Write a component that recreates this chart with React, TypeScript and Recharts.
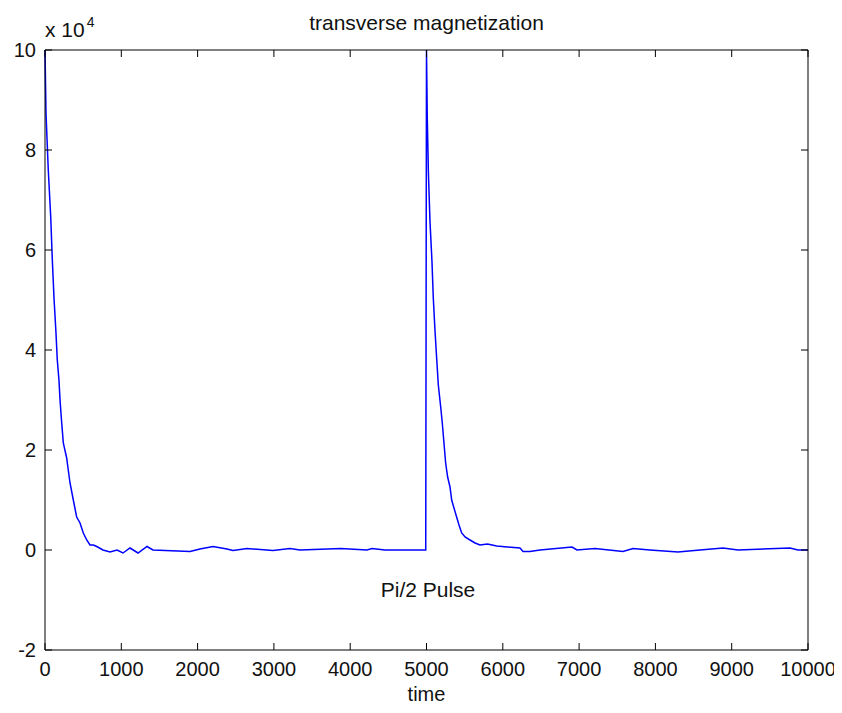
import { FC } from "react";
import {
	LineChart,
	Line,
	XAxis,
	YAxis,
	ReferenceDot,
} from "recharts";

// time samples
const timeSteps = [
	0, 13, 43, 75, 96, 118, 144, 161, 183, 197, 216, 240, 284, 305, 328, 371,
	415, 459, 502, 547, 590, 633, 678, 760, 852, 944, 1022, 1114, 1219, 1337,
	1415, 1900, 2031, 2202, 2385, 2464, 2647, 2988, 3211, 3342, 3879, 4220,
	4286, 4456, 4990, 5000, 5010, 5025, 5046, 5072, 5089, 5111, 5133, 5155,
	5186, 5207, 5229, 5251, 5277, 5308, 5330, 5360, 5395, 5426, 5461, 5505,
	5570, 5636, 5701, 5800, 5920, 6225, 6265, 6356, 6487, 6907, 6972, 7208,
	7575, 7706, 7929, 8296, 8584, 8886, 9083, 9764, 9869, 10000,
];

// transverse magnetization, in units of 10^4
const magnetization = [
	10, 8.74, 7.6, 6.66, 5.8, 5.04, 4.34, 3.8, 3.4, 3.0, 2.6, 2.14, 1.84, 1.6,
	1.34, 1.0, 0.66, 0.54, 0.34, 0.2, 0.1, 0.1, 0.07, 0, -0.04, 0, -0.06, 0.04,
	-0.06, 0.07, 0, -0.03, 0.02, 0.07, 0.02, -0.01, 0.03, -0.01, 0.03, 0, 0.03,
	0, 0.03, 0, 0, 10, 8.66, 7.54, 6.56, 5.76, 5.04, 4.4, 3.84, 3.3, 2.86, 2.54,
	2.14, 1.74, 1.46, 1.26, 1.0, 0.84, 0.66, 0.5, 0.34, 0.26, 0.2, 0.14, 0.1,
	0.12, 0.08, 0.04, -0.03, -0.03, 0, 0.06, 0, 0.03, -0.03, 0.03, 0, -0.04, 0,
	0.04, 0, 0.04, 0, 0,
];

const xTicks = [0, 1000, 2000, 3000, 4000, 5000, 6000, 7000, 8000, 9000, 10000];
const yTicks = [-2, 0, 2, 4, 6, 8, 10];

const pulseNote = { t: 5020, value: -0.8, text: "Pi/2 Pulse" };

const data = timeSteps.map((t, i) => ({ t, m: magnetization[i] }));

const FONT = "'Liberation Sans', Arial, Helvetica, sans-serif";
const TICK_LEN = 7;
const TICK_COLOR = "#000";

// matlab style: tick marks point into the box
const BottomTick = (props: any) => {
	const x = Number(props.x);
	const y = Number(props.y);
	return (
		<g>
			<path d={`M${x},${y}V${y - TICK_LEN}`} stroke={TICK_COLOR} strokeWidth={1} />
			<text x={x} y={y + 26} textAnchor="middle" fontFamily={FONT} fontSize={20} fill="#111">
				{props.payload.value}
			</text>
		</g>
	);
};

const TopTick = (props: any) => {
	const x = Number(props.x);
	const y = Number(props.y);
	return <path d={`M${x},${y}V${y + TICK_LEN}`} stroke={TICK_COLOR} strokeWidth={1} />;
};

const LeftTick = (props: any) => {
	const x = Number(props.x);
	const y = Number(props.y);
	return (
		<g>
			<path d={`M${x},${y}H${x + TICK_LEN}`} stroke={TICK_COLOR} strokeWidth={1} />
			<text x={x - 9} y={y + 7} textAnchor="end" fontFamily={FONT} fontSize={20} fill="#111">
				{props.payload.value}
			</text>
		</g>
	);
};

const RightTick = (props: any) => {
	const x = Number(props.x);
	const y = Number(props.y);
	return <path d={`M${x},${y}H${x - TICK_LEN}`} stroke={TICK_COLOR} strokeWidth={1} />;
};

const App: FC = () => {
	return (
		<div style={{ position: "relative", width: 834, height: 697 }}>
			<LineChart
				width={834}
				height={697}
				data={data}
				margin={{ top: 41, right: 33, left: 0, bottom: 0 }}
				style={{ overflow: "visible" }}
			>
				<XAxis
					dataKey="t"
					type="number"
					domain={[0, 10000]}
					ticks={xTicks}
					interval={0}
					height={55}
					stroke="#000"
					tickLine={false}
					tickSize={0}
					tickMargin={0}
					tick={<BottomTick />}
					label={{
						value: "time",
						position: "insideBottom",
						offset: 4,
						style: { fontFamily: FONT, fontSize: 20, fill: "#111" },
					}}
				/>
				<XAxis
					xAxisId="top"
					orientation="top"
					dataKey="t"
					type="number"
					domain={[0, 10000]}
					ticks={xTicks}
					interval={0}
					height={1}
					stroke="#000"
					tickLine={false}
					tickSize={0}
					tickMargin={0}
					tick={<TopTick />}
					label={{
						value: "transverse magnetization",
						position: "top",
						offset: 19,
						style: { fontFamily: FONT, fontSize: 21, fill: "#111" },
					}}
				/>
				<YAxis
					type="number"
					domain={[-2, 10]}
					ticks={yTicks}
					interval={0}
					width={37}
					stroke="#000"
					tickLine={false}
					tickSize={0}
					tickMargin={0}
					tick={<LeftTick />}
				/>
				<YAxis
					yAxisId="right"
					orientation="right"
					type="number"
					domain={[-2, 10]}
					ticks={yTicks}
					interval={0}
					width={1}
					stroke="#000"
					tickLine={false}
					tickSize={0}
					tickMargin={0}
					tick={<RightTick />}
				/>
				{/* invisible copy so the box axes (top/right) get their ticks */}
				<Line
					xAxisId="top"
					yAxisId="right"
					dataKey="m"
					stroke="none"
					dot={false}
					activeDot={false}
					legendType="none"
					isAnimationActive={false}
				/>
				<Line
					dataKey="m"
					type="linear"
					stroke="#0000ff"
					strokeWidth={1.5}
					dot={false}
					isAnimationActive={false}
				/>
				<ReferenceDot
					x={pulseNote.t}
					y={pulseNote.value}
					r={0}
					fill="none"
					stroke="none"
					label={{
						value: pulseNote.text,
						position: "center",
						style: { fontFamily: FONT, fontSize: 21, fill: "#111" },
					}}
				/>
			</LineChart>
			<div
				style={{
					position: "absolute",
					left: 37,
					top: 12,
					fontFamily: FONT,
					fontSize: 21,
					lineHeight: "20px",
					color: "#111",
					whiteSpace: "nowrap",
				}}
			>
				x 10
				<span style={{ fontSize: 14, position: "relative", top: -10, marginLeft: 2 }}>
					4
				</span>
			</div>
		</div>
	);
};

export default App;
